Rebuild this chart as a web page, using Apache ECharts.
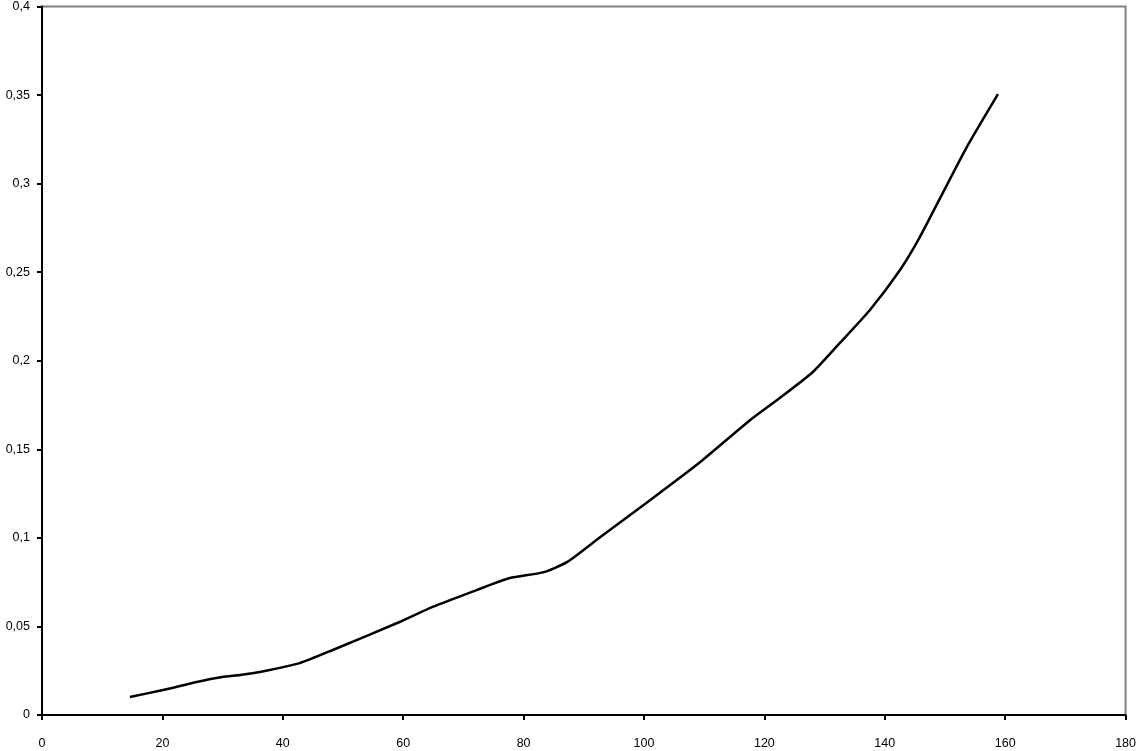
<!DOCTYPE html>
<html lang="en">
<head>
    <meta charset="UTF-8" />
    <title>curve</title>
    <script src="https://cdn.jsdelivr.net/npm/echarts@6/dist/echarts.min.js"></script>
    <style>
        html, body { margin: 0; padding: 0; background: #fff; }
        #chart { width: 1139px; height: 751px; }
    </style>
</head>
<body>
<div id="chart"></div>
<script type="text/javascript">
    // values
    var xValues = [14.6, 20.1, 25.7, 29.9, 32.9, 36.2, 42.8, 48.3, 59.4, 64.9, 72.2, 77.7, 83.2,
        87.2, 92.7, 101, 109.3, 117.6, 122.5, 128, 132.5, 137.5, 142.5, 145.8, 149.6, 153.6, 158.8];
    var yValues = [0.0102, 0.0141, 0.0186, 0.0214, 0.0226, 0.0243, 0.0293, 0.0367, 0.0525, 0.061, 0.0705,
        0.0773, 0.0805, 0.0863, 0.1004, 0.1213, 0.1427, 0.1664, 0.1788, 0.1935, 0.2099, 0.2285, 0.2511,
        0.2697, 0.2945, 0.3205, 0.3505];
    var xTicks = [0, 20, 40, 60, 80, 100, 120, 140, 160, 180];
    var yTicks = [0, 0.05, 0.1, 0.15, 0.2, 0.25, 0.3, 0.35, 0.4];

    var points = xValues.map(function (x, i) { return [x, yValues[i]]; });
    var labelFont = { color: '#000', fontSize: 12.5, fontFamily: 'Liberation Sans, Arial, sans-serif' };

    var myChart = echarts.init(document.getElementById('chart'));
    myChart.setOption({
        animation: false,
        grid: {
            left: 42, top: 6, right: 13, bottom: 36,
            show: true, borderColor: '#808080', borderWidth: 2
        },
        xAxis: {
            type: 'value', min: xTicks[0], max: xTicks[xTicks.length - 1], interval: 20,
            axisLine: { onZero: false, lineStyle: { color: '#000', width: 2 } },
            axisTick: { show: true, length: 5, inside: false, lineStyle: { color: '#000', width: 2 } },
            axisLabel: Object.assign({ margin: 22 }, labelFont),
            splitLine: { show: false }
        },
        yAxis: {
            type: 'value', min: yTicks[0], max: yTicks[yTicks.length - 1], interval: 0.05,
            axisLine: { show: true, onZero: false, lineStyle: { color: '#000', width: 2 } },
            axisTick: { show: true, length: 5, inside: false, lineStyle: { color: '#000', width: 2 } },
            axisLabel: Object.assign({
                margin: 12,
                formatter: function (v) { return String(+v.toFixed(2)).replace('.', ','); }
            }, labelFont),
            splitLine: { show: false }
        },
        series: [{
            type: 'line',
            data: points,
            smooth: 0.2,
            showSymbol: false,
            lineStyle: { color: '#000', width: 2.5 }
        }]
    });
</script>
</body>
</html>
